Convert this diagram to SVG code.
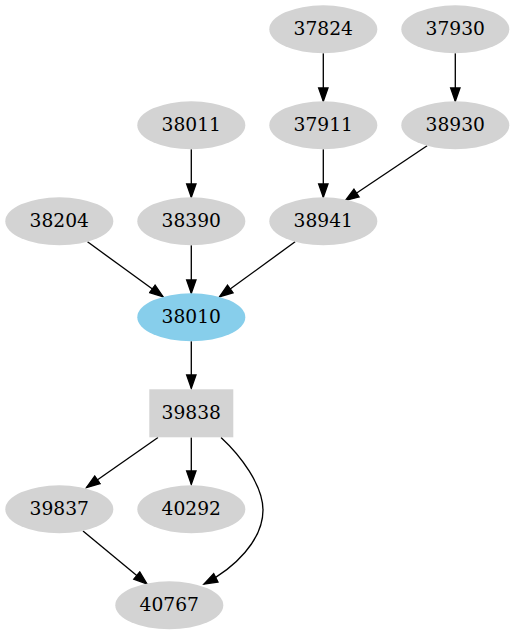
<svg xmlns="http://www.w3.org/2000/svg" width="514" height="635" viewBox="0 0 514 635">
<style>
.n ellipse, .n rect { fill: #d3d3d3; stroke: none; }
.n text { font-family: "DejaVu Serif", "Liberation Serif", serif; font-size: 18.67px; text-anchor: middle; fill: #000; }
#edges path { fill: none; stroke: #000; stroke-width: 1.33; marker-end: url(#arr); }
</style>
<defs>
<marker id="arr" markerUnits="userSpaceOnUse" markerWidth="16" markerHeight="12" refX="13.3" refY="5" orient="auto" viewBox="-1 0 16 10">
<path d="M0,0.33 L13.3,5 L0,9.67 z" fill="#000" stroke="#000" stroke-width="1.33"/>
</marker>
</defs>
<rect width="514" height="635" fill="#fff"/>
<g id="edges">
<path d="M323.3,53.3 L323.3,101.3"/>
<path d="M455.3,53.3 L455.3,101.3"/>
<path d="M323.3,149.3 L323.3,197.3"/>
<path d="M427.1,145.8 L345.5,200.5"/>
<path d="M191.3,149.3 L191.3,197.3"/>
<path d="M87.5,241.8 L163.1,296.8"/>
<path d="M191.3,245.3 L191.3,293.3"/>
<path d="M295.1,241.8 L219.5,296.8"/>
<path d="M191.3,341.3 L191.3,388.3"/>
<path d="M158,437.5 L86.5,487.5"/>
<path d="M191.3,437.5 L191.3,484.3"/>
<path d="M221,437.5 C240,455 263,485 263,510 C263,540 235,568 204,584"/>
<path d="M83,531 L147,584"/>
</g>
<g id="n37824" class="n"><ellipse cx="323.3" cy="29.3" rx="54" ry="24"/><text x="323.3" y="34.9">37824</text></g>
<g id="n37930" class="n"><ellipse cx="455.3" cy="29.3" rx="54" ry="24"/><text x="455.3" y="34.9">37930</text></g>
<g id="n38011" class="n"><ellipse cx="191.3" cy="125.3" rx="54" ry="24"/><text x="191.3" y="130.9">38011</text></g>
<g id="n37911" class="n"><ellipse cx="323.3" cy="125.3" rx="54" ry="24"/><text x="323.3" y="130.9">37911</text></g>
<g id="n38930" class="n"><ellipse cx="455.3" cy="125.3" rx="54" ry="24"/><text x="455.3" y="130.9">38930</text></g>
<g id="n38204" class="n"><ellipse cx="59.3" cy="221.3" rx="54" ry="24"/><text x="59.3" y="226.9">38204</text></g>
<g id="n38390" class="n"><ellipse cx="191.3" cy="221.3" rx="54" ry="24"/><text x="191.3" y="226.9">38390</text></g>
<g id="n38941" class="n"><ellipse cx="323.3" cy="221.3" rx="54" ry="24"/><text x="323.3" y="226.9">38941</text></g>
<g id="n38010" class="n"><ellipse cx="191.3" cy="317.3" rx="54" ry="24" style="fill:#87ceeb"/><text x="191.3" y="322.9">38010</text></g>
<g id="n39838" class="n"><rect x="149.3" y="389.3" width="84" height="48"/><text x="191.3" y="418.9">39838</text></g>
<g id="n39837" class="n"><ellipse cx="59.3" cy="509.3" rx="54" ry="24"/><text x="59.3" y="514.9">39837</text></g>
<g id="n40292" class="n"><ellipse cx="191.3" cy="509.3" rx="54" ry="24"/><text x="191.3" y="514.9">40292</text></g>
<g id="n40767" class="n"><ellipse cx="169.3" cy="605.3" rx="54" ry="24"/><text x="169.3" y="610.9">40767</text></g>
</svg>
